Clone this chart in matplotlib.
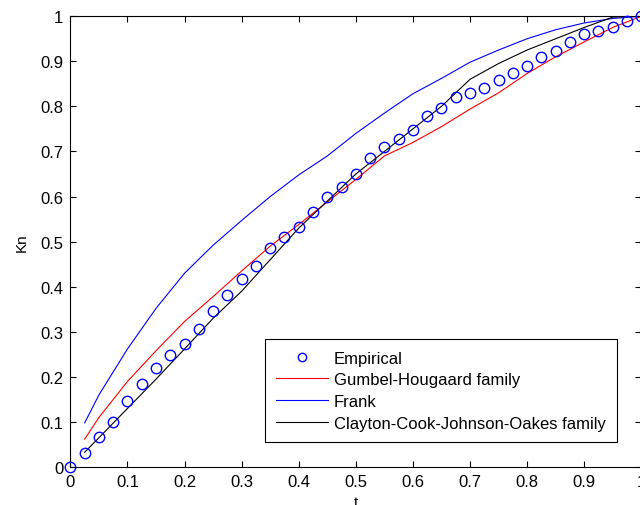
import matplotlib
matplotlib.use("Agg")
import matplotlib.pyplot as plt

# empirical Kendall function
t_emp = [0.0, 0.025, 0.05, 0.075, 0.1, 0.125, 0.15, 0.175, 0.2, 0.225,
         0.25, 0.275, 0.3, 0.325, 0.35, 0.375, 0.4, 0.425, 0.45, 0.475,
         0.5, 0.525, 0.55, 0.575, 0.6, 0.625, 0.65, 0.675, 0.7, 0.725,
         0.75, 0.775, 0.8, 0.825, 0.85, 0.875, 0.9, 0.925, 0.95, 0.975, 1.0]
kn_emp = [0.0, 0.031, 0.067, 0.101, 0.146, 0.184, 0.219, 0.249, 0.273, 0.307,
          0.346, 0.381, 0.417, 0.447, 0.486, 0.511, 0.532, 0.565, 0.598, 0.621,
          0.65, 0.685, 0.71, 0.727, 0.747, 0.778, 0.796, 0.82, 0.829, 0.84,
          0.858, 0.873, 0.89, 0.909, 0.922, 0.942, 0.96, 0.967, 0.976, 0.989, 1.0]

# fitted copulas
t_fit = [0.025, 0.05, 0.1, 0.15, 0.2, 0.25, 0.3, 0.35, 0.4, 0.45, 0.5,
         0.55, 0.6, 0.65, 0.7, 0.75, 0.8, 0.85, 0.9, 0.95, 1.0]
kn_gumbel = [0.062, 0.11, 0.19, 0.258, 0.323, 0.378, 0.435, 0.49, 0.538, 0.588, 0.638,
             0.69, 0.72, 0.755, 0.794, 0.83, 0.873, 0.91, 0.943, 0.975, 1.0]
kn_frank = [0.098, 0.16, 0.262, 0.352, 0.43, 0.492, 0.547, 0.60, 0.648, 0.69, 0.74,
            0.785, 0.828, 0.862, 0.898, 0.925, 0.95, 0.97, 0.985, 0.995, 1.0]
kn_clayton = [0.033, 0.065, 0.13, 0.195, 0.262, 0.33, 0.39, 0.46, 0.53, 0.59, 0.65,
              0.70, 0.75, 0.80, 0.86, 0.895, 0.925, 0.95, 0.975, 0.998, 1.0]

plt.rcParams["font.family"] = ["Liberation Sans", "DejaVu Sans"]
plt.rcParams["font.size"] = 12

fig = plt.figure(figsize=(6.4, 5.06), dpi=100)
ax = fig.add_axes([0.110, 0.075, 0.892, 0.891])

ax.plot(t_emp, kn_emp, "o", mfc="none", mec="#0000ff", ms=7.5, mew=1.0,
        label="Empirical", clip_on=False, zorder=3)
ax.plot(t_fit, kn_gumbel, "-", color="#ff0000", lw=0.8, label="Gumbel-Hougaard family")
ax.plot(t_fit, kn_frank, "-", color="#0000ff", lw=0.8, label="Frank")
ax.plot(t_fit, kn_clayton, "-", color="#000000", lw=0.8,
        label="Clayton-Cook-Johnson-Oakes family")

ax.set_xlim(0, 1)
ax.set_ylim(0, 1)
ax.set_xticks([i / 10 for i in range(11)])
ax.set_yticks([i / 10 for i in range(11)])
ax.set_xticklabels(["0", "0.1", "0.2", "0.3", "0.4", "0.5", "0.6", "0.7", "0.8", "0.9", "1"])
ax.set_yticklabels(["0", "0.1", "0.2", "0.3", "0.4", "0.5", "0.6", "0.7", "0.8", "0.9", "1"])
ax.tick_params(direction="in", top=True, right=True, length=4.5, width=0.8,
               labelsize=12, pad=5)
for s in ax.spines.values():
    s.set_linewidth(0.8)

ax.set_xlabel("t", fontsize=11, labelpad=4)
ax.set_ylabel("Kn", fontsize=11, labelpad=8)

leg = ax.legend(loc="lower right", bbox_to_anchor=(0.958, 0.055), fancybox=False,
                edgecolor="black", framealpha=1, fontsize=12, handlelength=3.1,
                handletextpad=0.35, borderpad=0.7, labelspacing=0.4,
                borderaxespad=0, markerscale=0.8)
leg.get_frame().set_linewidth(0.8)

fig.savefig("out.png", dpi=100)
